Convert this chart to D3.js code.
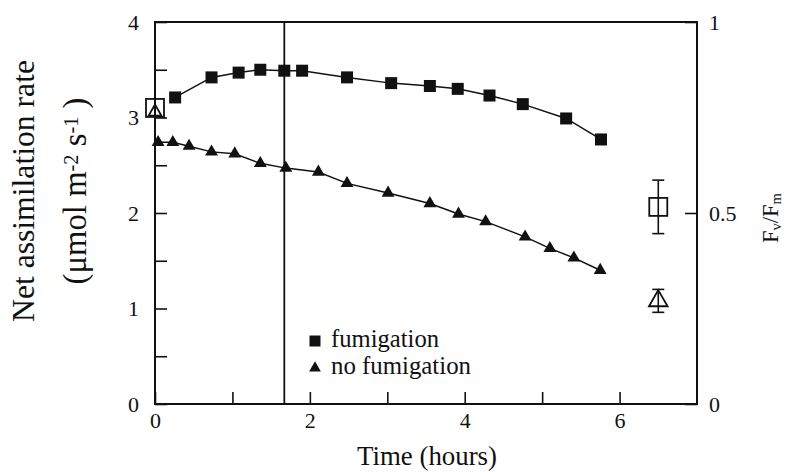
<!DOCTYPE html>
<html>
<head>
<meta charset="utf-8">
<script src="https://cdn.jsdelivr.net/npm/d3@7/dist/d3.min.js"></script>
<style>
  html, body { margin: 0; padding: 0; background: #fff; }
  svg { display: block; }
  svg text { font-family: "Liberation Serif", Tinos, "Times New Roman", Times, "Nimbus Roman", "DejaVu Serif", serif; fill: #111; }
</style>
</head>
<body>
<svg id="chart" width="785" height="472"></svg>
<script>
// Net assimilation (left axis) over time
const fumTime = [0.26, 0.73, 1.08, 1.36, 1.67, 1.90, 2.48, 3.05, 3.55, 3.91, 4.32, 4.75, 5.31, 5.76];
const fumRate = [3.21, 3.42, 3.47, 3.50, 3.49, 3.49, 3.42, 3.36, 3.33, 3.30, 3.23, 3.14, 2.99, 2.77];
const noFumTime = [0.04, 0.23, 0.44, 0.73, 1.03, 1.36, 1.69, 2.11, 2.48, 3.01, 3.55, 3.92, 4.27, 4.78, 5.10, 5.41, 5.75];
const noFumRate = [2.74, 2.74, 2.70, 2.64, 2.62, 2.52, 2.47, 2.43, 2.31, 2.21, 2.10, 1.99, 1.91, 1.75, 1.63, 1.53, 1.40];

// Fv/Fm (right axis), before and after the run
const fvfmTime = [0.0, 6.5];
const fumFvFm = [0.775, 0.516];
const fumFvFmErr = [0, 0.07];
const noFumFvFm = [0.77, 0.27];
const noFumFvFmErr = [0, 0.03];

// Start of fumigation
const markerTime = 1.67;

const leftTicks = [0, 0.5, 1, 1.5, 2, 2.5, 3, 3.5, 4];
const bottomTicks = [0, 1, 2, 3, 4, 5, 6];
const bottomLabels = [0, 2, 4, 6];
const rightTicks = [0, 0.5, 1];

const svg = d3.select("#chart");
const L = 155, R = 697, T = 22, B = 404;
const INK = "#111";

const x = d3.scaleLinear().domain([0, 7]).range([L, R]);
const y = d3.scaleLinear().domain([0, 4]).range([B, T]);
const yR = d3.scaleLinear().domain([0, 1]).range([B, T]);

// Scale a text's font size so that it spans the wanted length
function fit(sel, width) {
  const size = parseFloat(sel.style("font-size"));
  const w = sel.node().getComputedTextLength();
  if (w > 0) sel.style("font-size", (size * width / w).toFixed(2) + "px");
  return sel;
}

// Axes with inward ticks
const axL = svg.append("g").attr("transform", `translate(${L},0)`)
  .call(d3.axisLeft(y).tickValues(leftTicks).tickSizeInner(-12).tickSizeOuter(0).tickPadding(16)
    .tickFormat(d => Number.isInteger(d) ? d : ""));
const axB = svg.append("g").attr("transform", `translate(0,${B})`)
  .call(d3.axisBottom(x).tickValues(bottomTicks).tickSizeInner(-12).tickSizeOuter(0).tickPadding(8)
    .tickFormat(d => bottomLabels.includes(d) ? d : ""));
const axR = svg.append("g").attr("transform", `translate(${R},0)`)
  .call(d3.axisRight(yR).tickValues(rightTicks).tickSizeInner(-12).tickSizeOuter(0).tickPadding(12)
    .tickFormat(d => d === 0.5 ? "0.5" : d));

[axL, axB, axR].forEach(g => {
  g.attr("font-family", null).attr("font-size", null);
  g.select(".domain").remove();
  g.selectAll(".tick line").attr("stroke", INK).attr("stroke-width", 1.6);
  g.selectAll(".tick text").style("font-size", "22px").attr("fill", INK);
});

// Frame
svg.append("rect").attr("x", L).attr("y", T).attr("width", R - L).attr("height", B - T)
  .attr("fill", "none").attr("stroke", INK).attr("stroke-width", 2);

// Vertical marker line
svg.append("line").attr("x1", x(markerTime)).attr("x2", x(markerTime)).attr("y1", T).attr("y2", B)
  .attr("stroke", INK).attr("stroke-width", 1.8);

const line = d3.line().x(d => x(d[0])).y(d => y(d[1]));

const fum = fumTime.map((t, i) => [t, fumRate[i]]);
const noFum = noFumTime.map((t, i) => [t, noFumRate[i]]);

svg.append("path").datum(fum).attr("d", line).attr("fill", "none").attr("stroke", INK).attr("stroke-width", 1.5);
svg.append("path").datum(noFum).attr("d", line).attr("fill", "none").attr("stroke", INK).attr("stroke-width", 1.5);

const sq = 12;
svg.append("g").selectAll("rect").data(fum).join("rect")
  .attr("x", d => x(d[0]) - sq / 2).attr("y", d => y(d[1]) - sq / 2)
  .attr("width", sq).attr("height", sq).attr("fill", INK);

const triFilled = d3.symbol().type(d3.symbolTriangle).size(72);
svg.append("g").selectAll("path").data(noFum).join("path")
  .attr("transform", d => `translate(${x(d[0])},${y(d[1])})`)
  .attr("d", triFilled).attr("fill", INK);

// Fv/Fm open markers with error bars
function errBar(t, v, e) {
  if (!e) return;
  const g = svg.append("g").attr("stroke", INK).attr("stroke-width", 1.6);
  g.append("line").attr("x1", x(t)).attr("x2", x(t)).attr("y1", yR(v - e)).attr("y2", yR(v + e));
  [v - e, v + e].forEach(vv => g.append("line").attr("x1", x(t) - 6).attr("x2", x(t) + 6).attr("y1", yR(vv)).attr("y2", yR(vv)));
}
fvfmTime.forEach((t, i) => {
  errBar(t, fumFvFm[i], fumFvFmErr[i]);
  errBar(t, noFumFvFm[i], noFumFvFmErr[i]);
});

const osq = 18;
svg.append("g").selectAll("rect").data(fvfmTime.map((t, i) => [t, fumFvFm[i]])).join("rect")
  .attr("x", d => x(d[0]) - osq / 2).attr("y", d => yR(d[1]) - osq / 2)
  .attr("width", osq).attr("height", osq).attr("fill", "none").attr("stroke", INK).attr("stroke-width", 1.8);

svg.append("g").selectAll("path").data(fvfmTime.map((t, i) => [t, noFumFvFm[i], i])).join("path")
  .attr("transform", d => `translate(${x(d[0])},${yR(d[1]) + (d[2] === 0 ? 2 : 0)})`)
  .attr("d", d => d3.symbol().type(d3.symbolTriangle).size(d[2] === 0 ? 70 : 150)())
  .attr("fill", "none").attr("stroke", INK).attr("stroke-width", 1.8);

// Legend
const lg = svg.append("g");
lg.append("rect").attr("x", 315 - 5.5).attr("y", 341 - 5.5).attr("width", 11).attr("height", 11).attr("fill", INK);
lg.append("path").attr("transform", "translate(315,368)").attr("d", d3.symbol().type(d3.symbolTriangle).size(60)).attr("fill", INK);
fit(lg.append("text").attr("x", 331).attr("y", 347).style("font-size", "20px").text("fumigation"), 108);
fit(lg.append("text").attr("x", 331).attr("y", 374).style("font-size", "20px").text("no fumigation"), 140);

// Axis titles
fit(svg.append("text").attr("transform", "translate(427,465)").attr("text-anchor", "middle")
  .style("font-size", "24px").text("Time (hours)"), 140);

fit(svg.append("text").attr("transform", "translate(34,191) rotate(-90)").attr("text-anchor", "middle")
  .style("font-size", "26px").text("Net assimilation rate"), 262);

const t2 = svg.append("text").attr("transform", "translate(86,191) rotate(-90)").attr("text-anchor", "middle")
  .style("font-size", "26px");
t2.append("tspan").text("(μmol m");
t2.append("tspan").attr("dy", "-0.4em").style("font-size", "0.62em").text("-2");
t2.append("tspan").attr("dy", "0.25em").text(" s");
t2.append("tspan").attr("dy", "-0.4em").style("font-size", "0.62em").text("-1");
t2.append("tspan").attr("dy", "0.25em").text(" )");
fit(t2, 187);

const t3 = svg.append("text").attr("transform", "translate(778,218) rotate(-90)").attr("text-anchor", "middle")
  .style("font-size", "22px");
t3.append("tspan").text("F");
t3.append("tspan").attr("dy", "0.2em").style("font-size", "0.65em").text("v");
t3.append("tspan").attr("dy", "-0.13em").text("/F");
t3.append("tspan").attr("dy", "0.2em").style("font-size", "0.65em").text("m");
fit(t3, 50);
</script>
</body>
</html>
